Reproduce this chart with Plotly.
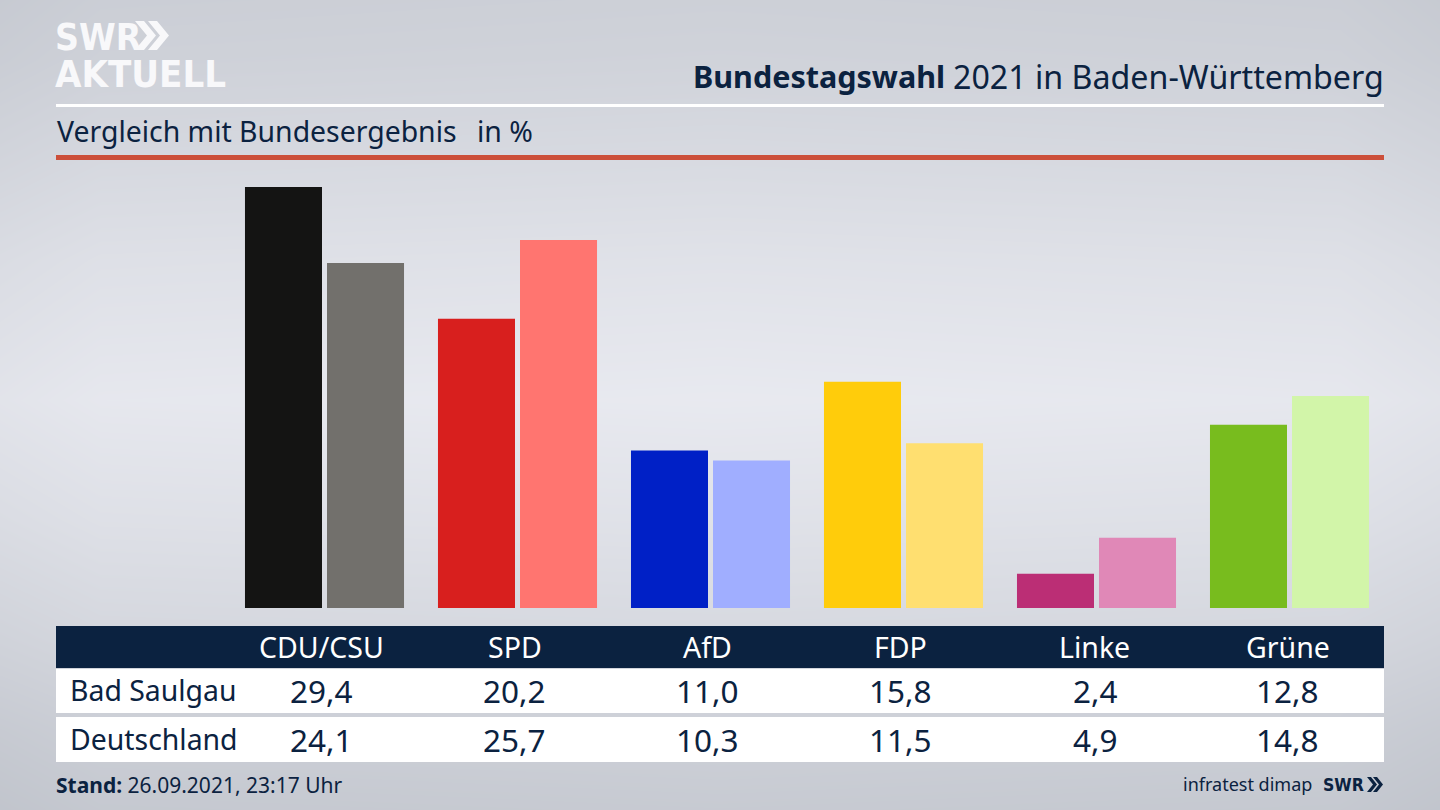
import plotly.graph_objects as go
import numpy as np

W, H = 1440, 810
parties = ["CDU/CSU", "SPD", "AfD", "FDP", "Linke", "Grüne"]
bad_saulgau = [29.4, 20.2, 11.0, 15.8, 2.4, 12.8]
deutschland = [24.1, 25.7, 10.3, 11.5, 4.9, 14.8]
colors_local = ["#141413", "#d81f1e", "#0020c6", "#ffcc0b", "#bb2e75", "#78bc1e"]
colors_national = ["#72706c", "#ff7570", "#a0aeff", "#ffdf70", "#e088b7", "#d2f5a9"]
row_names = ["Bad Saulgau", "Deutschland"]
NAVY = "#0b2240"
FONT = "Noto Sans"
LOGO = "DejaVu Sans Condensed"

def fmt(v):
    return f"{v:.1f}".replace(".", ",")
def px(x): return x / W
def py(y): return 1 - y / H

fig = go.Figure()

# background gradient
ys = np.array([0, 60, 150, 260, 400, 520, 640, 730, 810])
zs = np.array([207, 210, 217, 226, 234, 226, 216, 207, 201])
xs = np.array([0, 100, 720, 1340, 1440])
dx = np.array([-6, -2, 0, -2, -6])
z = np.array([[v + d for d in dx] for v in zs], dtype=float)
fig.add_trace(go.Heatmap(x=xs, y=ys, z=z, zsmooth="best", showscale=False, hoverinfo="skip",
                         zmin=190, zmax=240,
                         colorscale=[[0, "rgb(188,192,200)"], [1, "rgb(238,239,245)"]],
                         xaxis="x", yaxis="y"))

fig.add_trace(go.Bar(x=parties, y=bad_saulgau, marker=dict(color=colors_local, line_width=0),
                     name=row_names[0], xaxis="x2", yaxis="y2"))
fig.add_trace(go.Bar(x=parties, y=deutschland, marker=dict(color=colors_national, line_width=0),
                     name=row_names[1], xaxis="x2", yaxis="y2"))

shapes = []
def rect(x0, y0, x1, y1, color):
    shapes.append(dict(type="rect", xref="paper", yref="paper", x0=px(x0), x1=px(x1), y0=py(y0), y1=py(y1),
                       fillcolor=color, line_width=0, layer="above"))
def chevrons(x, top, bot, w, t, step, color):
    mid = (top + bot) / 2
    for k in range(2):
        xx = x + k * step
        pts = [(xx, top), (xx + t, top), (xx + t + w, mid), (xx + t, bot), (xx, bot), (xx + w, mid)]
        path = "M" + " L".join(f"{px(a):.5f},{py(b):.5f}" for a, b in pts) + " Z"
        shapes.append(dict(type="path", xref="paper", yref="paper", path=path, fillcolor=color, line_width=0))

rect(56, 104, 1384, 107, "#ffffff")
rect(56, 155, 1384, 160, "#cc4f3a")
rect(56, 626, 1384, 668, NAVY)
rect(56, 669, 1384, 713, "#ffffff")
rect(56, 717, 1384, 762, "#ffffff")
chevrons(135, 21, 50, 12, 9, 13, "#f8f8fa")
chevrons(1367, 777, 792, 6, 4, 6, NAVY)

ann = []
def text(x, y, s, size, color=NAVY, anchor="left", family=FONT):
    ann.append(dict(xref="paper", yref="paper", x=px(x), y=py(y), text=s, showarrow=False,
                    xanchor=anchor, yanchor="middle", align=anchor,
                    font=dict(family=family, size=size, color=color), borderpad=0, borderwidth=0))

text(55, 56, "<b><span style='font-size:37px'>SWR</span><br><span style='font-size:38px'>AKTUELL</span></b>",
     28.5, "#f8f8fa", family=LOGO)
text(945, 76, "<b>Bundestagswahl</b>", 30.5, anchor="right")
text(1384, 76, "2021 in Baden-Württemberg", 32.2, anchor="right")
text(57, 131.5, "Vergleich mit Bundesergebnis", 28.4)
text(477, 131.5, "in %", 28.4)
text(56, 785, "<b>Stand:</b> 26.09.2021, 23:17 Uhr", 21)
text(1312, 784, "infratest dimap", 18, anchor="right")
text(1323, 785, "<b>SWR</b>", 17.5, family=LOGO)

centers = [321.5, 514.5, 707.5, 900.5, 1094.5, 1287.5]
for c, p, a, b in zip(centers, parties, bad_saulgau, deutschland):
    text(c, 646.5, p, 28.5, "#ffffff", "center")
    text(c, 690, fmt(a), 31.5, anchor="center")
    text(c, 739, fmt(b), 31.5, anchor="center")
text(70, 690, row_names[0], 28.4)
text(70, 739, row_names[1], 28.4)

fig.update_layout(
    width=W, height=H, autosize=False,
    margin=dict(l=0, r=0, t=0, b=0),
    paper_bgcolor="#dcdee4", plot_bgcolor="rgba(0,0,0,0)",
    showlegend=False, barmode="group", bargap=0.15, bargroupgap=0.061,
    shapes=shapes, annotations=ann,
    xaxis=dict(domain=[0, 1], range=[0, 1440], visible=False, fixedrange=True),
    yaxis=dict(domain=[0, 1], range=[810, 0], visible=False, fixedrange=True),
    xaxis2=dict(domain=[px(228), px(1386)], anchor="y2", range=[-0.5, 5.5], visible=False,
                type="category", categoryorder="array", categoryarray=parties),
    yaxis2=dict(domain=[py(608), py(187)], anchor="x2", range=[0, 29.4], visible=False),
)
fig.write_html("out.html", config=dict(displayModeBar=False),
               post_script="document.body.style.margin='0';document.documentElement.style.overflow='hidden';")
